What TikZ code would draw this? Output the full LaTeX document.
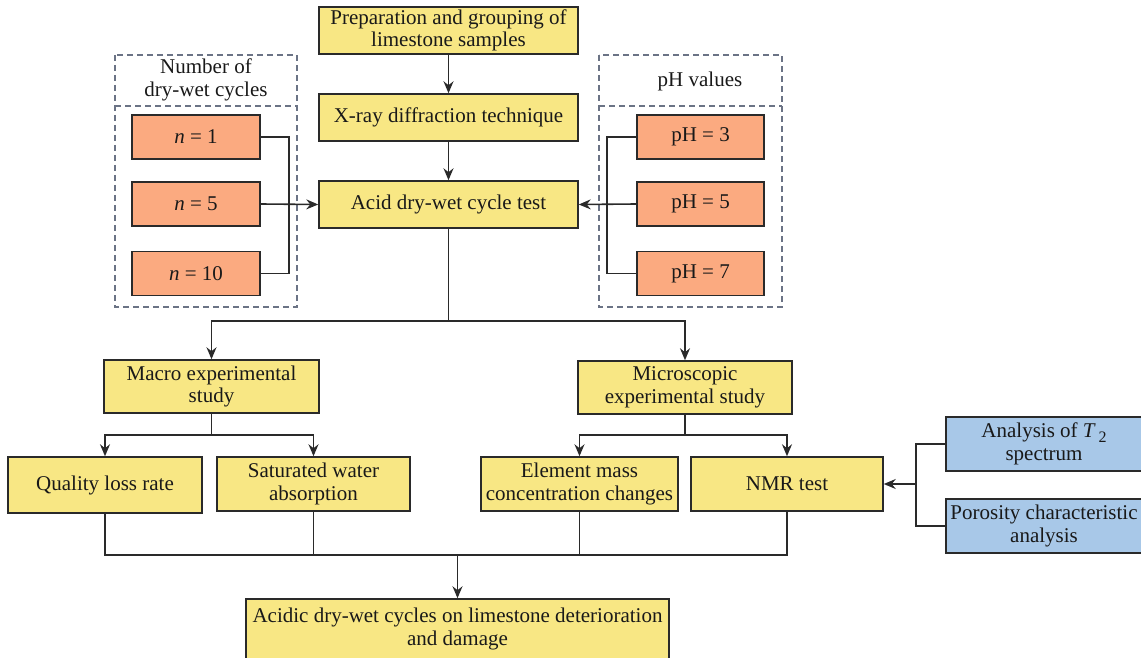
\documentclass[tikz,border=0pt]{standalone}
\usepackage{fontspec}
\setmainfont{Liberation Serif}
\usetikzlibrary{arrows.meta,positioning,calc}
\definecolor{yel}{HTML}{F8E784}
\definecolor{ora}{HTML}{FBAA80}
\definecolor{blu}{HTML}{A8C8E8}
\definecolor{edge}{HTML}{2A2A2A}
\definecolor{dash}{HTML}{6B7385}
\tikzset{
  box/.style={draw=edge, line width=1.5pt, inner sep=0pt, align=center, font=\fontsize{21}{22.5}\selectfont, text=black!90},
  ybox/.style={box, fill=yel},
  obox/.style={box, fill=ora},
  bbox/.style={box, fill=blu},
  conn/.style={draw=edge, line width=1.6pt},
  arr/.style={conn, -{Stealth[length=12pt,width=10pt,inset=4pt]}},
  dbox/.style={draw=dash, line width=1.4pt, dash pattern=on 6pt off 4pt},
  lbl/.style={inner sep=0pt, align=center, font=\fontsize{21}{22.5}\selectfont, text=black!90}
}
\begin{document}
\begin{tikzpicture}[x=1pt,y=-1pt]
\useasboundingbox (0,0) rectangle (1141,658);
% dashed group boxes
\draw[dbox] (115,55) rectangle (297,307);
\draw[dbox] (115,106) -- (297,106);
\draw[dbox] (599,55) rectangle (782,307);
\draw[dbox] (599,106) -- (782,106);
\node[lbl] (lnum) at (206,80) {Number of\\dry-wet cycles};
\node[lbl] (lph) at (700,81) {pH values};
% main column
\node[ybox, minimum width=259pt, minimum height=47pt] (prep) at (448.5,30.5) {Preparation and grouping of\\limestone samples};
\node[ybox, minimum width=259pt, minimum height=47pt] (xray) at (448.5,117.5) {X-ray diffraction technique};
\node[ybox, minimum width=259pt, minimum height=47pt] (acid) at (448.5,204.5) {Acid dry-wet cycle test};
% n boxes
\node[obox, minimum width=128pt, minimum height=44pt] (n1) at (196,137) {\textit{n} = 1};
\node[obox, minimum width=128pt, minimum height=44pt] (n5) at (196,204) {\textit{n} = 5};
\node[obox, minimum width=128pt, minimum height=44pt] (n10) at (196,273.5) {\textit{n} = 10};
% pH boxes
\node[obox, minimum width=127pt, minimum height=44pt] (ph3) at (700.5,137) {pH = 3};
\node[obox, minimum width=127pt, minimum height=44pt] (ph5) at (700.5,204) {pH = 5};
\node[obox, minimum width=127pt, minimum height=44pt] (ph7) at (700.5,273.5) {pH = 7};
% second level
\node[ybox, minimum width=215pt, minimum height=53pt] (macro) at (211.5,386.5) {Macro experimental\\study};
\node[ybox, minimum width=214pt, minimum height=53pt] (micro) at (685,387.5) {Microscopic\\experimental study};
% third level
\node[ybox, minimum width=194pt, minimum height=56pt] (qual) at (105,485) {Quality loss rate};
\node[ybox, minimum width=193pt, minimum height=54pt] (sat) at (313.5,484) {Saturated water\\absorption};
\node[ybox, minimum width=197pt, minimum height=54pt] (elem) at (579.5,484) {Element mass\\concentration changes};
\node[ybox, minimum width=192pt, minimum height=54pt] (nmr) at (787,484) {NMR test};
% blue
\node[bbox, minimum width=196pt, minimum height=54pt] (ana) at (1044,444) {Analysis of \textit{T}\raisebox{-0.45ex}{\fontsize{16}{16}\selectfont\,2}\\spectrum};
\node[bbox, minimum width=196pt, minimum height=54pt] (por) at (1044,526) {Porosity characteristic\\analysis};
% final
\node[ybox, minimum width=423pt, minimum height=60pt] (fin) at (457.5,629) {Acidic dry-wet cycles on limestone deterioration\\and damage};
% connectors top
\draw[arr] (prep) -- (xray);
\draw[arr] (xray) -- (acid);
\coordinate (lj) at (289,204);
\draw[conn] (n1.east) -| (lj);
\draw[conn] (n10.east) -| (lj);
\draw[arr] (n5.east) -- (acid.west);
\coordinate (rj) at (607,204);
\draw[conn] (ph3.west) -| (rj);
\draw[conn] (ph7.west) -| (rj);
\draw[arr] (ph5.west) -- (acid.east);
% split
\coordinate (s1) at (448.5,321);
\draw[conn] (acid.south) -- (s1);
\draw[arr] (s1) -| (macro.north);
\draw[arr] (s1) -| (micro.north);
\coordinate (s2) at (211.5,435);
\draw[conn] (macro.south) -- (s2);
\draw[arr] (s2) -| (qual.north);
\draw[arr] (s2) -| (sat.north);
\coordinate (s3) at (685,435);
\draw[conn] (micro.south) -- (s3);
\draw[arr] (s3) -| (elem.north);
\draw[arr] (s3) -| (nmr.north);
% blue join
\coordinate (bj) at (916,484);
\draw[conn] (ana.west) -| (bj);
\draw[conn] (por.west) -| (bj);
\draw[arr] (bj) -- (nmr.east);
% bottom merge
\coordinate (m1) at (105,555);
\coordinate (m2) at (787,555);
\coordinate (m0) at (457.5,555);
\draw[conn] (qual.south) -- (m1) -- (m2) -- (nmr.south);
\draw[conn] (sat.south) -- (sat.south |- m1);
\draw[conn] (elem.south) -- (elem.south |- m1);
\draw[arr] (m0) -- (fin.north);
\end{tikzpicture}
\end{document}
